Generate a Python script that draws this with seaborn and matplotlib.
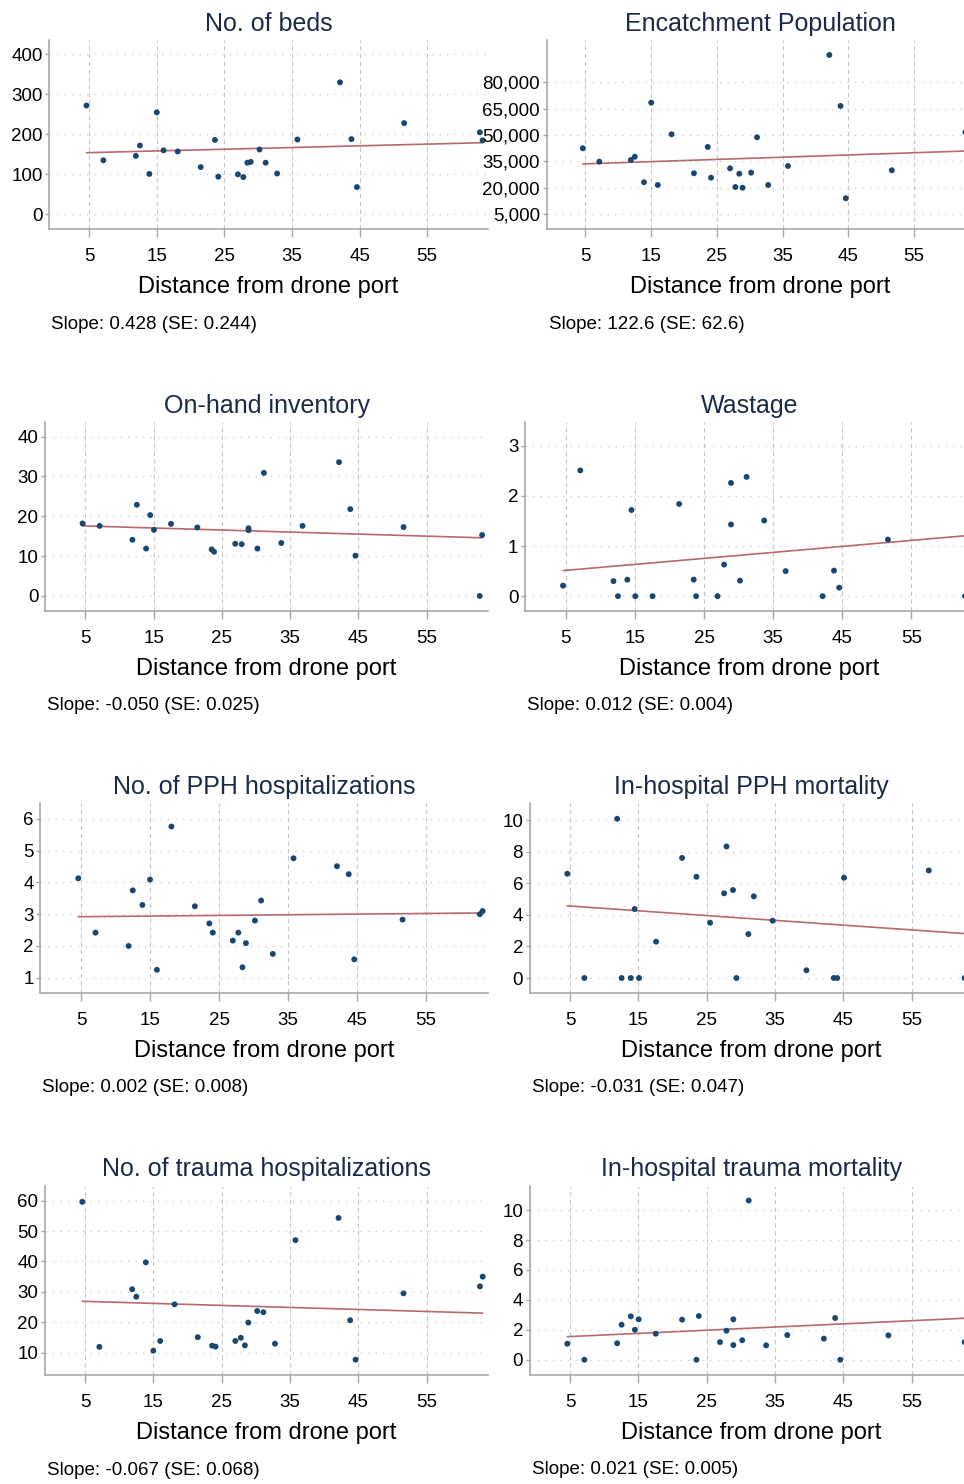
import numpy as np
import pandas as pd
import seaborn as sns
import matplotlib.ticker as mticker
from matplotlib import pyplot as plt

sns.set_theme(style="white")
plt.rcParams["font.family"] = ["Liberation Sans", "DejaVu Sans"]

# distances from the drone port
dist_a = [4.6, 7.1, 11.9, 12.5, 13.9, 15.0, 16.0, 18.1, 21.5, 23.6, 24.1, 27.0, 27.8,
          28.4, 28.9, 30.2, 31.1, 32.8, 35.8, 42.1, 43.8, 44.6, 51.6, 62.8, 63.2]
dist_b = [4.6, 7.1, 11.9, 12.55, 13.9, 14.5, 15.05, 17.55, 21.4, 23.5, 23.85, 26.95, 27.9,
          28.9, 28.9, 30.2, 31.15, 33.7, 36.8, 42.15, 43.8, 44.55, 51.6, 62.75, 63.1]
dist_pph_mort = [4.6, 7.1, 11.9, 12.55, 13.9, 14.45, 15.1, 17.6, 21.4, 23.5, 25.5, 27.55,
                 27.9, 28.85, 29.35, 31.1, 31.9, 34.65, 39.6, 43.6, 44.1, 45.1, 57.5, 62.75]

beds = [272, 135, 146, 172, 101, 255, 160, 157, 118, 186, 94, 100, 93,
        129, 131, 162, 129, 102, 187, 330, 188, 68, 228, 205, 185]
population = [42500, 34900, 35850, 37700, 23200, 68400, 21650, 50450, 28300, 43250, 25800, 31100,
              20500, 28050, 20100, 28650, 48750, 21650, 32450, 95500, 66550, 14100, 30000, 51600]
inventory = [18.2, 17.6, 14.1, 22.9, 11.9, 20.3, 16.6, 18.1, 17.2, 11.7, 11.1, 13.1, 13.0,
             17.0, 16.5, 11.9, 30.9, 13.3, 17.6, 33.6, 21.8, 10.1, 17.3, 0.0, 15.3]
wastage = [0.21, 2.51, 0.30, 0.0, 0.33, 1.72, 0.0, 0.0, 1.84, 0.33, 0.0, 0.0, 0.63,
           1.43, 2.26, 0.31, 2.38, 1.51, 0.50, 0.0, 0.51, 0.17, 1.13, 0.0]
pph = [4.13, 2.42, 2.0, 3.75, 3.29, 4.09, 1.25, 5.76, 3.25, 2.71, 2.42, 2.17, 2.42,
       1.33, 2.09, 2.8, 3.43, 1.75, 4.76, 4.51, 4.26, 1.58, 2.83, 3.0, 3.1]
pph_mort = [6.6, 0, 10.08, 0, 0, 4.37, 0, 2.3, 7.6, 6.41, 3.5, 5.36,
            8.33, 5.57, 0, 2.78, 5.17, 3.63, 0.49, 0, 0, 6.35, 6.81, 0]
trauma = [59.6, 11.9, 30.85, 28.4, 39.7, 10.66, 13.85, 25.9, 15.1, 12.3, 12.0, 13.85, 14.9,
          12.4, 19.9, 23.7, 23.3, 12.96, 47.0, 54.3, 20.66, 7.7, 29.5, 31.8, 35.0]
trauma_mort = [1.07, 0, 1.1, 2.34, 2.9, 2.0, 2.7, 1.74, 2.68, 0, 2.92, 1.18, 1.94,
               2.7, 0.98, 1.3, 10.64, 0.96, 1.65, 1.41, 2.79, 0, 1.63, 1.18]

# fitted line values at the nearest and farthest distance
fit_dist = [(4.6, 63.2), (4.6, 63.2), (4.6, 63.1), (4.6, 63.1),
            (4.6, 63.2), (4.6, 63.1), (4.6, 63.2), (4.6, 63.1)]
fit_vals = [(154, 179), (33600, 41000), (17.6, 14.6), (0.51, 1.21),
            (2.92, 3.04), (4.57, 2.8), (26.9, 23.0), (1.54, 2.78)]

titles = ["No. of beds", "Encatchment Population", "On-hand inventory", "Wastage",
          "No. of PPH hospitalizations", "In-hospital PPH mortality",
          "No. of trauma hospitalizations", "In-hospital trauma mortality"]
slopes = ["Slope: 0.428 (SE: 0.244)", "Slope: 122.6 (SE: 62.6)",
          "Slope: -0.050 (SE: 0.025)", "Slope: 0.012 (SE: 0.004)",
          "Slope: 0.002 (SE: 0.008)", "Slope: -0.031 (SE: 0.047)",
          "Slope: -0.067 (SE: 0.068)", "Slope: 0.021 (SE: 0.005)"]
xs = [dist_a, dist_a[:24], dist_b, dist_b[:24], dist_a, dist_pph_mort, dist_a, dist_b[:24]]
ys = [beds, population, inventory, wastage, pph, pph_mort, trauma, trauma_mort]
x_ticks = [5, 15, 25, 35, 45, 55]
y_ticks = [[0, 100, 200, 300, 400], [5000, 20000, 35000, 50000, 65000, 80000],
           [0, 10, 20, 30, 40], [0, 1, 2, 3], [1, 2, 3, 4, 5, 6],
           [0, 2, 4, 6, 8, 10], [10, 20, 30, 40, 50, 60], [0, 2, 4, 6, 8, 10]]

# layout (pixels): axis left, top, bottom, px per km ; y limits
boxes = [(49.3, 40, 229.3, 6.76), (546.7, 40, 229, 6.573),
         (45, 422.3, 610.7, 6.83), (525, 422.3, 610.7, 6.913),
         (40.3, 803.3, 992.7, 6.9), (529.7, 803.3, 992.7, 6.833),
         (44.7, 1185.7, 1375, 6.833), (529.7, 1185.7, 1374.7, 6.833)]
ylims = [(-37.5, 435.8), (-3350, 104000), (-3.7, 43.6), (-0.29, 3.47),
         (0.53, 6.49), (-0.93, 11.06), (2.66, 64.9), (-1.0, 11.63)]
XMIN, XMAX = -0.9, 64
FW, FH = 964, 1484

navy = "#1a476f"
line_c = "#b8696d"
axis_c = "#a8a8a8"

fig = plt.figure(figsize=(FW / 100, FH / 100), dpi=100)

for i in range(8):
    L, T, B, scale = boxes[i]
    W = (XMAX - XMIN) * scale
    H = B - T
    ax = fig.add_axes([L / FW, 1 - B / FH, W / FW, H / FH])
    ax.patch.set_alpha(0)
    df = pd.DataFrame({"dist": xs[i], "val": ys[i]})
    fit = pd.DataFrame({"dist": list(fit_dist[i]), "val": list(fit_vals[i])})
    sns.lineplot(data=fit, x="dist", y="val", ax=ax, color=line_c, lw=1.2, zorder=2)
    sns.scatterplot(data=df, x="dist", y="val", ax=ax, color=navy, s=18,
                    edgecolor="none", zorder=3)
    ax.set_xlim(XMIN, XMAX)
    ax.set_ylim(*ylims[i])
    ax.set_xticks(x_ticks)
    ax.set_yticks(y_ticks[i])
    if i == 1:
        ax.yaxis.set_major_formatter(mticker.StrMethodFormatter("{x:,.0f}"))
    ax.grid(axis="x", ls=(0, (4, 3)), color="#c6c6c6", lw=0.8)
    ax.grid(axis="y", ls=(0, (1, 5)), color="#c8c8c8", lw=0.9)
    sns.despine(ax=ax)
    for s in ["left", "bottom"]:
        ax.spines[s].set_color(axis_c)
        ax.spines[s].set_linewidth(1.2)
    ax.tick_params(axis="x", length=5.8, width=1, color=axis_c, pad=7.8,
                   labelsize=13.5, labelcolor="black", bottom=True)
    ax.tick_params(axis="y", length=3, width=1, color=axis_c, pad=1.8,
                   labelsize=13.5, labelcolor="black", left=True)
    ax.set_title(titles[i], fontsize=18, color="#1c2a4a", pad=6.7)
    ax.set_xlabel("Distance from drone port", fontsize=17, color="black")
    ax.xaxis.set_label_coords(0.5, -64 / H)
    ax.xaxis.label.set_verticalalignment("baseline")
    ax.set_ylabel("")
    ax.annotate(slopes[i], xy=(0, 0), xycoords="axes fraction",
                xytext=(2 * 0.72, -99.7 * 0.72), textcoords="offset points",
                va="baseline", ha="left", fontsize=13.5, color="black")

plt.savefig("out.png", dpi=100)
